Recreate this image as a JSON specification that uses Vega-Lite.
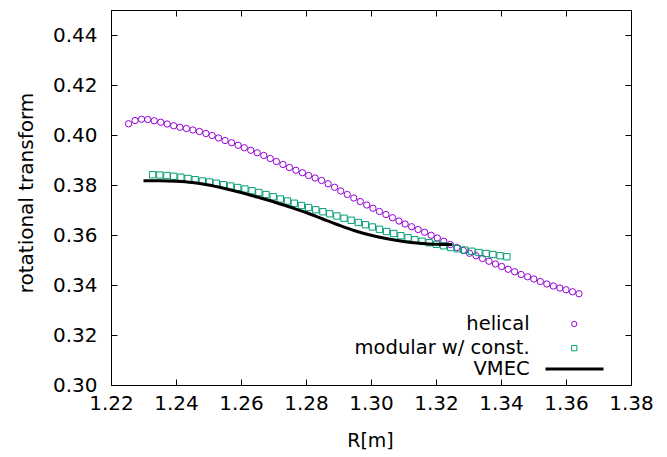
{
  "$schema": "https://vega.github.io/schema/vega-lite/v6.json",
  "width": 520,
  "height": 375,
  "autosize": "none",
  "padding": {"left": 111, "top": 10, "right": 36, "bottom": 72},
  "background": "white",
  "config": {
    "view": {"stroke": "black", "strokeWidth": 1},
    "font": "DejaVu Sans",
    "axis": {
      "grid": false,
      "domainColor": "black",
      "tickColor": "black",
      "tickSize": -6,
      "labelFont": "DejaVu Sans",
      "labelFontSize": 20,
      "labelColor": "black",
      "titleFont": "DejaVu Sans",
      "titleFontWeight": "normal",
      "titleColor": "black"
    },
    "legend": {
      "labelFont": "DejaVu Sans",
      "labelFontSize": 19.5,
      "labelColor": "black",
      "labelAlign": "right",
      "labelBaseline": "middle",
      "labelLimit": 400,
      "padding": 0,
      "title": null
    }
  },
  "data": {
    "values": [
      {"series": "helical", "R": 1.2254, "v": 0.4045},
      {"series": "helical", "R": 1.2274, "v": 0.4058},
      {"series": "helical", "R": 1.2294, "v": 0.4063},
      {"series": "helical", "R": 1.2313, "v": 0.4062},
      {"series": "helical", "R": 1.2333, "v": 0.4057},
      {"series": "helical", "R": 1.2353, "v": 0.4051},
      {"series": "helical", "R": 1.2373, "v": 0.4044},
      {"series": "helical", "R": 1.2393, "v": 0.4037},
      {"series": "helical", "R": 1.2412, "v": 0.4031},
      {"series": "helical", "R": 1.2432, "v": 0.4026},
      {"series": "helical", "R": 1.2452, "v": 0.4020},
      {"series": "helical", "R": 1.2472, "v": 0.4014},
      {"series": "helical", "R": 1.2492, "v": 0.4006},
      {"series": "helical", "R": 1.2511, "v": 0.3998},
      {"series": "helical", "R": 1.2531, "v": 0.3988},
      {"series": "helical", "R": 1.2551, "v": 0.3978},
      {"series": "helical", "R": 1.2571, "v": 0.3969},
      {"series": "helical", "R": 1.2591, "v": 0.3959},
      {"series": "helical", "R": 1.2610, "v": 0.3949},
      {"series": "helical", "R": 1.2630, "v": 0.3939},
      {"series": "helical", "R": 1.2650, "v": 0.3929},
      {"series": "helical", "R": 1.2670, "v": 0.3918},
      {"series": "helical", "R": 1.2690, "v": 0.3906},
      {"series": "helical", "R": 1.2709, "v": 0.3894},
      {"series": "helical", "R": 1.2729, "v": 0.3882},
      {"series": "helical", "R": 1.2749, "v": 0.3870},
      {"series": "helical", "R": 1.2769, "v": 0.3859},
      {"series": "helical", "R": 1.2789, "v": 0.3849},
      {"series": "helical", "R": 1.2808, "v": 0.3838},
      {"series": "helical", "R": 1.2828, "v": 0.3828},
      {"series": "helical", "R": 1.2848, "v": 0.3818},
      {"series": "helical", "R": 1.2868, "v": 0.3805},
      {"series": "helical", "R": 1.2888, "v": 0.3791},
      {"series": "helical", "R": 1.2907, "v": 0.3776},
      {"series": "helical", "R": 1.2927, "v": 0.3762},
      {"series": "helical", "R": 1.2947, "v": 0.3748},
      {"series": "helical", "R": 1.2967, "v": 0.3734},
      {"series": "helical", "R": 1.2987, "v": 0.3720},
      {"series": "helical", "R": 1.3006, "v": 0.3707},
      {"series": "helical", "R": 1.3026, "v": 0.3694},
      {"series": "helical", "R": 1.3046, "v": 0.3682},
      {"series": "helical", "R": 1.3066, "v": 0.3669},
      {"series": "helical", "R": 1.3086, "v": 0.3656},
      {"series": "helical", "R": 1.3105, "v": 0.3644},
      {"series": "helical", "R": 1.3125, "v": 0.3633},
      {"series": "helical", "R": 1.3145, "v": 0.3622},
      {"series": "helical", "R": 1.3165, "v": 0.3611},
      {"series": "helical", "R": 1.3185, "v": 0.3599},
      {"series": "helical", "R": 1.3204, "v": 0.3588},
      {"series": "helical", "R": 1.3224, "v": 0.3575},
      {"series": "helical", "R": 1.3244, "v": 0.3562},
      {"series": "helical", "R": 1.3264, "v": 0.3550},
      {"series": "helical", "R": 1.3284, "v": 0.3538},
      {"series": "helical", "R": 1.3303, "v": 0.3527},
      {"series": "helical", "R": 1.3323, "v": 0.3517},
      {"series": "helical", "R": 1.3343, "v": 0.3506},
      {"series": "helical", "R": 1.3363, "v": 0.3495},
      {"series": "helical", "R": 1.3383, "v": 0.3484},
      {"series": "helical", "R": 1.3402, "v": 0.3474},
      {"series": "helical", "R": 1.3422, "v": 0.3463},
      {"series": "helical", "R": 1.3442, "v": 0.3453},
      {"series": "helical", "R": 1.3462, "v": 0.3442},
      {"series": "helical", "R": 1.3482, "v": 0.3433},
      {"series": "helical", "R": 1.3501, "v": 0.3424},
      {"series": "helical", "R": 1.3521, "v": 0.3414},
      {"series": "helical", "R": 1.3541, "v": 0.3404},
      {"series": "helical", "R": 1.3561, "v": 0.3396},
      {"series": "helical", "R": 1.3581, "v": 0.3388},
      {"series": "helical", "R": 1.3600, "v": 0.3381},
      {"series": "helical", "R": 1.3620, "v": 0.3373},
      {"series": "helical", "R": 1.3640, "v": 0.3365},
      {"series": "modular w/ const.", "R": 1.2328, "v": 0.3841},
      {"series": "modular w/ const.", "R": 1.2350, "v": 0.3840},
      {"series": "modular w/ const.", "R": 1.2372, "v": 0.3838},
      {"series": "modular w/ const.", "R": 1.2393, "v": 0.3835},
      {"series": "modular w/ const.", "R": 1.2415, "v": 0.3831},
      {"series": "modular w/ const.", "R": 1.2437, "v": 0.3826},
      {"series": "modular w/ const.", "R": 1.2459, "v": 0.3821},
      {"series": "modular w/ const.", "R": 1.2481, "v": 0.3816},
      {"series": "modular w/ const.", "R": 1.2503, "v": 0.3812},
      {"series": "modular w/ const.", "R": 1.2524, "v": 0.3807},
      {"series": "modular w/ const.", "R": 1.2546, "v": 0.3801},
      {"series": "modular w/ const.", "R": 1.2568, "v": 0.3796},
      {"series": "modular w/ const.", "R": 1.2590, "v": 0.3790},
      {"series": "modular w/ const.", "R": 1.2612, "v": 0.3784},
      {"series": "modular w/ const.", "R": 1.2634, "v": 0.3777},
      {"series": "modular w/ const.", "R": 1.2655, "v": 0.3770},
      {"series": "modular w/ const.", "R": 1.2677, "v": 0.3762},
      {"series": "modular w/ const.", "R": 1.2699, "v": 0.3753},
      {"series": "modular w/ const.", "R": 1.2721, "v": 0.3744},
      {"series": "modular w/ const.", "R": 1.2743, "v": 0.3736},
      {"series": "modular w/ const.", "R": 1.2764, "v": 0.3727},
      {"series": "modular w/ const.", "R": 1.2786, "v": 0.3718},
      {"series": "modular w/ const.", "R": 1.2808, "v": 0.3710},
      {"series": "modular w/ const.", "R": 1.2830, "v": 0.3701},
      {"series": "modular w/ const.", "R": 1.2852, "v": 0.3693},
      {"series": "modular w/ const.", "R": 1.2873, "v": 0.3685},
      {"series": "modular w/ const.", "R": 1.2895, "v": 0.3676},
      {"series": "modular w/ const.", "R": 1.2917, "v": 0.3667},
      {"series": "modular w/ const.", "R": 1.2939, "v": 0.3659},
      {"series": "modular w/ const.", "R": 1.2961, "v": 0.3650},
      {"series": "modular w/ const.", "R": 1.2983, "v": 0.3641},
      {"series": "modular w/ const.", "R": 1.3004, "v": 0.3632},
      {"series": "modular w/ const.", "R": 1.3026, "v": 0.3623},
      {"series": "modular w/ const.", "R": 1.3048, "v": 0.3614},
      {"series": "modular w/ const.", "R": 1.3070, "v": 0.3606},
      {"series": "modular w/ const.", "R": 1.3092, "v": 0.3597},
      {"series": "modular w/ const.", "R": 1.3114, "v": 0.3589},
      {"series": "modular w/ const.", "R": 1.3135, "v": 0.3581},
      {"series": "modular w/ const.", "R": 1.3157, "v": 0.3575},
      {"series": "modular w/ const.", "R": 1.3179, "v": 0.3569},
      {"series": "modular w/ const.", "R": 1.3201, "v": 0.3563},
      {"series": "modular w/ const.", "R": 1.3223, "v": 0.3557},
      {"series": "modular w/ const.", "R": 1.3245, "v": 0.3550},
      {"series": "modular w/ const.", "R": 1.3266, "v": 0.3545},
      {"series": "modular w/ const.", "R": 1.3288, "v": 0.3540},
      {"series": "modular w/ const.", "R": 1.3310, "v": 0.3535},
      {"series": "modular w/ const.", "R": 1.3332, "v": 0.3530},
      {"series": "modular w/ const.", "R": 1.3354, "v": 0.3526},
      {"series": "modular w/ const.", "R": 1.3375, "v": 0.3522},
      {"series": "modular w/ const.", "R": 1.3397, "v": 0.3517},
      {"series": "modular w/ const.", "R": 1.3418, "v": 0.3513},
      {"series": "VMEC", "R": 1.2300, "v": 0.3817},
      {"series": "VMEC", "R": 1.2350, "v": 0.3817},
      {"series": "VMEC", "R": 1.2400, "v": 0.3815},
      {"series": "VMEC", "R": 1.2450, "v": 0.3810},
      {"series": "VMEC", "R": 1.2500, "v": 0.3800},
      {"series": "VMEC", "R": 1.2550, "v": 0.3786},
      {"series": "VMEC", "R": 1.2600, "v": 0.3770},
      {"series": "VMEC", "R": 1.2650, "v": 0.3752},
      {"series": "VMEC", "R": 1.2700, "v": 0.3733},
      {"series": "VMEC", "R": 1.2750, "v": 0.3712},
      {"series": "VMEC", "R": 1.2800, "v": 0.3690},
      {"series": "VMEC", "R": 1.2850, "v": 0.3665},
      {"series": "VMEC", "R": 1.2900, "v": 0.3640},
      {"series": "VMEC", "R": 1.2950, "v": 0.3617},
      {"series": "VMEC", "R": 1.3000, "v": 0.3599},
      {"series": "VMEC", "R": 1.3050, "v": 0.3585},
      {"series": "VMEC", "R": 1.3100, "v": 0.3574},
      {"series": "VMEC", "R": 1.3150, "v": 0.3567},
      {"series": "VMEC", "R": 1.3200, "v": 0.3563},
      {"series": "VMEC", "R": 1.3250, "v": 0.3562}
    ]
  },
  "resolve": {"axis": {"x": "independent", "y": "independent"}},
  "layer": [
    {
      "transform": [{"filter": "datum.series !== 'VMEC'"}],
      "mark": {"type": "point", "filled": false, "strokeWidth": 1, "size": 40, "opacity": 1},
      "encoding": {
        "x": {
          "field": "R", "type": "quantitative",
          "scale": {"domain": [1.22, 1.38], "nice": false, "zero": false},
          "axis": {
            "orient": "bottom",
            "values": [1.22, 1.24, 1.26, 1.28, 1.30, 1.32, 1.34, 1.36, 1.38],
            "format": ".2f",
            "labelBaseline": "alphabetic",
            "labelPadding": 30.7,
            "labelFlush": false,
            "title": "R[m]",
            "titleFontSize": 19,
            "titleBaseline": "alphabetic",
            "titleX": 259,
            "titleY": 61.2
          }
        },
        "y": {
          "field": "v", "type": "quantitative",
          "scale": {"domain": [0.30, 0.45], "nice": false, "zero": false},
          "axis": {
            "orient": "left",
            "values": [0.30, 0.32, 0.34, 0.36, 0.38, 0.40, 0.42, 0.44],
            "format": ".2f",
            "labelPadding": 20,
            "labelFlush": false,
            "title": "rotational transform",
            "titleFontSize": 20,
            "titleAngle": -90,
            "titleBaseline": "alphabetic",
            "titleAlign": "center",
            "titleX": -79,
            "titleY": 182.5
          }
        },
        "color": {
          "field": "series", "type": "nominal",
          "scale": {"domain": ["helical", "modular w/ const."], "range": ["#9400d3", "#009e73"]},
          "legend": {
            "orient": "none",
            "legendX": 453.5,
            "legendY": 304.2,
            "labelOffset": -54.4,
            "symbolSize": 28,
            "symbolStrokeWidth": 1,
            "rowPadding": 3.2
          }
        },
        "shape": {
          "field": "series", "type": "nominal",
          "scale": {"domain": ["helical", "modular w/ const."], "range": ["circle", "square"]}
        }
      }
    },
    {
      "transform": [{"filter": "datum.series === 'VMEC'"}],
      "mark": {"type": "line", "strokeWidth": 3, "interpolate": "monotone"},
      "encoding": {
        "x": {
          "field": "R", "type": "quantitative",
          "axis": {"orient": "top", "values": [1.22, 1.24, 1.26, 1.28, 1.30, 1.32, 1.34, 1.36, 1.38], "labels": false, "title": null}
        },
        "y": {
          "field": "v", "type": "quantitative",
          "axis": {"orient": "right", "values": [0.30, 0.32, 0.34, 0.36, 0.38, 0.40, 0.42, 0.44], "labels": false, "title": null}
        },
        "stroke": {
          "field": "series", "type": "nominal",
          "scale": {"domain": ["VMEC"], "range": ["#000000"]},
          "legend": {
            "orient": "none",
            "legendX": 433,
            "legendY": 328.5,
            "labelOffset": -75.4,
            "symbolType": "stroke",
            "symbolSize": 3364,
            "symbolStrokeWidth": 3
          }
        }
      }
    }
  ]
}
